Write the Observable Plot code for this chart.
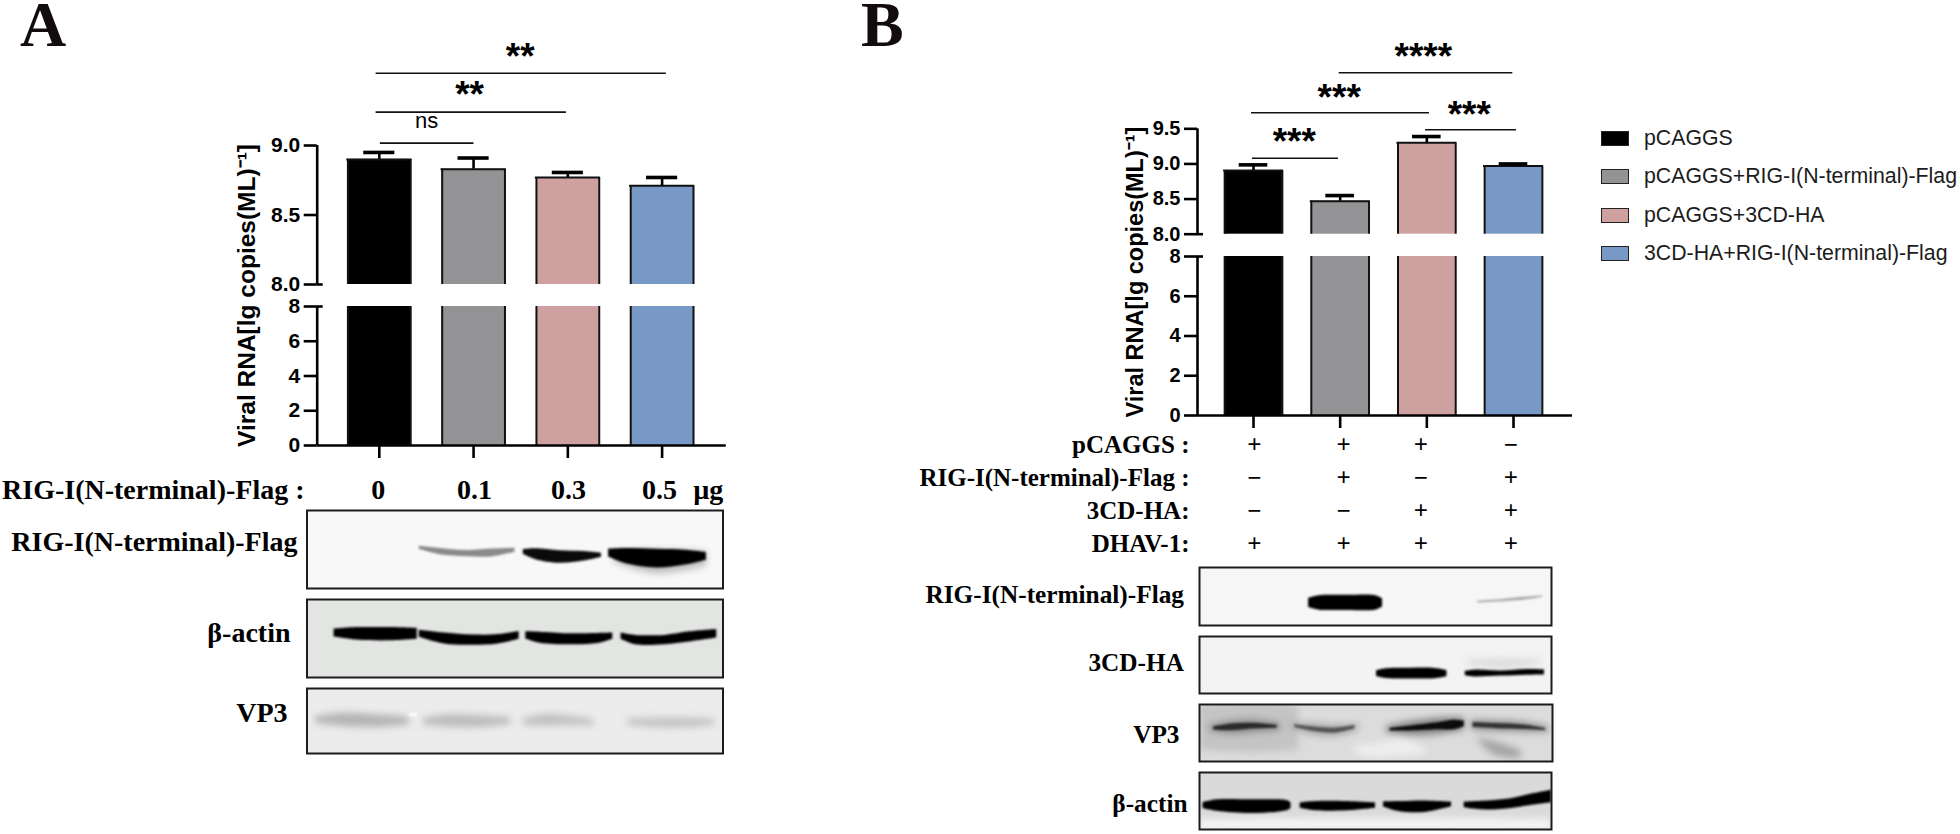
<!DOCTYPE html>
<html><head><meta charset="utf-8">
<script src="https://cdn.jsdelivr.net/npm/d3@7"></script>
<script src="https://cdn.jsdelivr.net/npm/@observablehq/plot@0.6"></script>
<style>
html,body{margin:0;padding:0;background:#fff;}
#page{position:relative;width:1960px;height:834px;overflow:hidden;background:#fff;}
#page svg{position:absolute;background:transparent;overflow:visible;max-width:none;}
g[aria-label="area"]{filter:blur(1.3px);}
.letter{position:absolute;font:bold 64px/50px "Liberation Serif",serif;color:#120c0c;}
.lg{position:absolute;left:1601px;width:28px;height:15px;box-sizing:border-box;border:1.5px solid #222;}
.lt{position:absolute;left:1644px;font:21.3px/24px "Liberation Sans",Arial,sans-serif;color:#1c1c1c;white-space:nowrap;}
</style></head><body><div id="page"></div>
<script>
// ---------- data ----------
const groupColors = ["#000000", "#939395", "#cea0a0", "#7899c6"];
const groupNames = ["pCAGGS", "pCAGGS+RIG-I(N-terminal)-Flag", "pCAGGS+3CD-HA", "3CD-HA+RIG-I(N-terminal)-Flag"];
const lanes = [0, 1, 2, 3];
const valuesA = [8.9, 8.83, 8.77, 8.71];
const errTopA = [8.95, 8.91, 8.806, 8.77];
const valuesB = [8.906, 8.47, 9.3, 8.97];
const errTopB = [8.987, 8.55, 9.39, 9.0];
const axisLabel = "Viral RNA[lg copies(ML)\u207B\u00B9]";
const BREAK = 8.0001;
const ticksA = [0, 2, 4, 6, 8, BREAK, 8.5, 9];
const ticksB = [0, 2, 4, 6, 8, BREAK, 8.5, 9, 9.5];
// significance brackets: from lane, to lane, height, label lane, label height, text
const bracketsA = [
  [-0.034, 3.045, 9.52, 1.494, 9.67, "**"],
  [-0.034, 1.985, 9.24, 0.958, 9.396, "**"],
  [0.011, 1.004, 9.017, 0.502, 9.18, "ns"]
];
const bracketsB = [
  [0.989, 2.992, 10.297, 1.96, 10.59, "****"],
  [-0.023, 2.03, 9.728, 0.989, 10.007, "***"],
  [1.985, 3.034, 9.486, 2.49, 9.76, "***"],
  [-0.012, 0.98, 9.082, 0.47, 9.376, "***"]
];
const doseLabels = ["0", "0.1", "0.3", "0.5", "\u00B5g"];
const doseLanes = [-0.01, 1.01, 2.007, 2.972, 3.49];
const tableRows = ["pCAGGS :", "RIG-I(N-terminal)-Flag :", "3CD-HA:", "DHAV-1:"];
const tableSigns = [
  ["+", "+", "+", "\u2212"],
  ["\u2212", "+", "\u2212", "+"],
  ["\u2212", "\u2212", "+", "+"],
  ["+", "+", "+", "+"]
];
const tableLanes = [0.01, 1.04, 1.93, 2.97];
// western blots: bands as [x %, y %, thickness %] of each frame; soft = diffuse smear
const blotA1 = [
  {ink:"#8a8a8a", pts:[[27,47.7,4],[31.6,52.3,8],[38.6,55.3,8],[44.4,54.5,10],[50,51,5]]},
  {ink:"#0a0a0a", pts:[[52,53,6],[55,56,14],[60.8,59.6,16],[66.7,58.7,12],[70.8,57.4,5]]},
  {ink:"#000000", pts:[[72.5,54.5,10],[77,58.7,20],[84,61.7,24],[91,60.4,19],[96,58.7,10]]},
  {ink:"#bbbbbb", soft:true, pts:[[74,60,14],[84,66,30],[96,62,18]]}
];
const blotA2 = [
  {ink:"#000000", pts:[[6.5,43,10],[12,44,16],[20,44.5,17],[26.5,44,14]]},
  {ink:"#000000", pts:[[27,44,9],[33,50,14],[40,52,13],[46,51,12],[51,46,10]]},
  {ink:"#000000", pts:[[52.6,46,9],[56,49,14],[63,51,14],[70,50,13],[73.5,47,8]]},
  {ink:"#000000", pts:[[75.5,47,8],[79,52,12],[86,52,12],[92,48,13],[98.5,44,11]]}
];
const blotA3 = [
  {ink:"#b4b4b4", soft:true, pts:[[2,49,10],[8,48,20],[16,50,20],[24.5,50,12]]},
  {ink:"#bcbcbc", soft:true, pts:[[28,51,10],[35,50,20],[42,51,18],[49,50,10]]},
  {ink:"#c0c0c0", soft:true, pts:[[52,52,10],[57,49,18],[64,50,14],[69,53,9]]},
  {ink:"#c4c4c4", soft:true, pts:[[77,52,10],[84,53,15],[92,53,15],[98,52,9]]},
  {ink:"#ffffff", pts:[[24.6,41,4],[26.6,41,5]]}
];
const blotB1 = [
  {ink:"#000000", pts:[[31,61,16],[34,61,25],[42,61,26],[50,61,25],[52,61,14]]},
  {ink:"#a8a8a8", pts:[[79,59.5,3],[86,57,4],[92,54,5],[97.5,50,3]]}
];
const blotB2 = [
  {ink:"#dcdcdc", soft:true, pts:[[76,46,8],[86,48,18],[97,46,8]]},
  {ink:"#000000", pts:[[50.3,65,10],[53,65,17],[60,65,19],[67,65,18],[70.3,65,11]]},
  {ink:"#000000", pts:[[75.5,65,8],[78,65,12],[86,65,9],[93,63,10],[98,63,9]]}
];
const blotB3 = [
  {ink:"#c4c4c4", soft:true, pts:[[0,40,80],[15,40,90],[28,40,80]]},
  {ink:"#ededed", soft:true, pts:[[44,80,14],[50,82,26],[58,76,30],[64,84,12]]},
  {ink:"#a4a4a4", soft:true, pts:[[79,62,5],[84,78,24],[91,88,14]]},
  {ink:"#8c8c8c", soft:true, pts:[[3,42,12],[10,40,24],[16,38,22],[23,39,12]]},
  {ink:"#a6a6a6", soft:true, pts:[[26,38,10],[32,43,20],[38,46,20],[45,40,12]]},
  {ink:"#808080", soft:true, pts:[[53,44,10],[60,42,24],[68,38,28],[75,34,22]]},
  {ink:"#909090", soft:true, pts:[[77,36,18],[84,38,20],[92,40,18],[99,44,10]]},
  {ink:"#2a2a2a", pts:[[4,42,6],[9,40,12],[15,38,10],[22,39,5]]},
  {ink:"#555555", pts:[[27,38,5],[32,43,8],[38,46,9],[44,40,6]]},
  {ink:"#0c0c0c", pts:[[54,44,5],[60,42,9],[68,38,13],[72,36,17],[75,34,10]]},
  {ink:"#333333", pts:[[77.5,36,9],[84,38,9],[92,40,8],[98,44,4]]}
];
const blotB4 = [
  {ink:"#f4f4f4", soft:true, pts:[[0,92,20],[50,92,22],[100,92,20]]},
  {ink:"#000000", pts:[[1,58,10],[5,58,20],[15,60,24],[25,58,17],[26,58,9]]},
  {ink:"#000000", pts:[[28.6,58,9],[33,59,16],[42,59,16],[50,58,9]]},
  {ink:"#000000", pts:[[52.3,56,9],[57,60,18],[64,60,20],[71.6,56,8]]},
  {ink:"#000000", pts:[[75.2,57,10],[80,58,15],[88,55,17],[95,47,20],[100,42,22]]}
];

// ---------- helpers ----------
const page = document.getElementById("page");
function put(svg, left, top) { svg.style.left = left + "px"; svg.style.top = top + "px"; page.appendChild(svg); }
const sans = '"Liberation Sans",Arial,sans-serif';
const serif = '"Liberation Serif",serif';
const outer = 2.6, halfBar = 0.333, halfCap = 0.165;

function chart({width, height, marginLeft, marginRight, marginBottom, xDomain, yDomain, yRange, values, errTop, ticks, tickFont, brackets, label, labelX, labelY, labelSize, extra = []}) {
  const rows = lanes.map(i => ({i, v: values[i], e: errTop[i], c: groupColors[i]}));
  const xLo = xDomain[0];
  const nub = 6 / ((width - marginLeft - marginRight) / (xDomain[1] - xDomain[0]));
  const br = brackets.map(([a, b, h, lx, ly, t]) => ({a, b, h, lx, ly, t}));
  const stars = br.filter(d => d.t !== "ns"), ns = br.filter(d => d.t === "ns");
  const fmt = v => v === BREAK ? "8.0" : v > 8 ? v.toFixed(1) : String(v);
  const sides = rows.flatMap(d => [{...d, s: d.i - halfBar}, {...d, s: d.i + halfBar}]);
  return Plot.plot({
    width, height, marginLeft, marginRight, marginTop: 0, marginBottom,
    x: {type: "linear", domain: xDomain},
    y: {type: "linear", domain: yDomain, range: yRange},
    style: {background: "transparent"},
    marks: [
      // bars, broken at the axis gap
      Plot.rectY(rows, {x1: d => d.i - halfBar, x2: d => d.i + halfBar, y1: 0, y2: 8, fill: "c"}),
      Plot.rectY(rows, {x1: d => d.i - halfBar, x2: d => d.i + halfBar, y1: BREAK, y2: "v", fill: "c"}),
      Plot.ruleX(sides, {x: "s", y1: 0, y2: 8, stroke: "#111", strokeWidth: 2}),
      Plot.ruleX(sides, {x: "s", y1: BREAK, y2: "v", stroke: "#111", strokeWidth: 2}),
      Plot.ruleY(rows, {y: "v", x1: d => d.i - halfBar - 0.012, x2: d => d.i + halfBar + 0.012, stroke: "#111", strokeWidth: 2}),
      // error bars
      Plot.ruleX(rows, {x: "i", y1: "v", y2: "e", stroke: "#000", strokeWidth: 2.6}),
      Plot.ruleY(rows, {y: "e", x1: d => d.i - halfCap, x2: d => d.i + halfCap, stroke: "#000", strokeWidth: 3.6}),
      // axes
      Plot.ruleX([xLo], {y1: 0, y2: 8, stroke: "#000", strokeWidth: outer}),
      Plot.ruleX([xLo], {y1: BREAK, y2: ticks[ticks.length - 1], stroke: "#000", strokeWidth: outer}),
      Plot.ruleY([8, BREAK], {x1: xLo, x2: xLo + nub, stroke: "#000", strokeWidth: outer}),
      Plot.ruleY([0], {stroke: "#000", strokeWidth: outer}),
      Plot.axisY({ticks, tickFormat: fmt, tickSize: 13, tickPadding: 4, strokeWidth: outer, label: null,
        fontSize: tickFont, fontWeight: "bold", fontFamily: sans, fill: "#000"}),
      Plot.axisX({ticks: lanes, tickFormat: () => "", tickSize: 13, strokeWidth: outer, label: null}),
      // axis title
      Plot.text([label], {x: () => labelX, y: () => labelY, rotate: -90, text: d => d,
        fontSize: labelSize, fontWeight: "bold", fontFamily: sans, fill: "#000", textAnchor: "middle", lineAnchor: "middle"}),
      // significance
      Plot.ruleY(br, {y: "h", x1: "a", x2: "b", stroke: "#111", strokeWidth: 1.6}),
      Plot.text(stars, {x: "lx", y: "ly", dy: 5, text: "t", fontSize: 37, fontWeight: "bold", fontFamily: sans, fill: "#000", lineAnchor: "middle"}),
      Plot.text(ns, {x: "lx", y: "ly", text: "t", fontSize: 22, fontFamily: sans, fill: "#000", lineAnchor: "middle"}),
      ...extra
    ]
  });
}

function blot({frameLeft, frameTop, frameW, frameH, paper, bands, label, labelEnd, labelY, labelSize}) {
  const pad = frameLeft - 4;
  const rowsOf = list => list.flatMap((b, id) => b.pts.map(([x, y, h]) => ({id, ink: b.ink, x, y1: y - h / 2, y2: y + h / 2})));
  const soft = rowsOf(bands.filter(b => b.soft)), sharp = rowsOf(bands.filter(b => !b.soft));
  const svg = Plot.plot({
    width: frameW + pad + 2, height: frameH + 2, marginLeft: pad, marginRight: 2, marginTop: 1, marginBottom: 1,
    x: {domain: [0, 100], axis: null}, y: {domain: [100, 0], axis: null},
    style: {background: "transparent"},
    marks: [
      Plot.frame({fill: paper, stroke: "none"}),
      Plot.area(soft, {x1: "x", y1: "y1", y2: "y2", z: "id", fill: "ink", curve: "catmull-rom", clip: "frame"}),
      Plot.area(sharp, {x1: "x", y1: "y1", y2: "y2", z: "id", fill: "ink", curve: "catmull-rom", clip: "frame"}),
      Plot.frame({stroke: "#1c1c1c", strokeWidth: 2}),
      Plot.text([label], {x: () => 0, y: () => labelY, dx: -(frameLeft - labelEnd), text: d => d, textAnchor: "end", lineAnchor: "middle",
        fontSize: labelSize, fontWeight: "bold", fontFamily: serif, fill: "#000"})
    ]
  });
  const softGroup = svg.querySelectorAll('g[aria-label="area"]')[0];
  if (soft.length && softGroup) softGroup.style.filter = "blur(3.5px)";
  put(svg, 4, frameTop - 1);
}

// ---------- panel A ----------
const kA = 94.27, x0A = 378.8;
const xDomA = [(316.7 - x0A) / kA, (725.8 - x0A) / kA];
put(chart({
  width: 740, height: 500, marginLeft: 316.7, marginRight: 14.2, marginBottom: 55,
  xDomain: xDomA, yDomain: [0, 8, BREAK, 8 + 284 / 139], yRange: [445, 306, 284, 0],
  values: valuesA, errTop: errTopA, ticks: ticksA, tickFont: 21, brackets: bracketsA,
  label: axisLabel, labelX: (246.7 - x0A) / kA, labelY: 8.00005, labelSize: 24.5,
  extra: [
    Plot.text(doseLabels, {x: (d, i) => doseLanes[i], y: () => 0, dy: 45, text: d => d, fontSize: 28, fontWeight: "bold", fontFamily: serif, fill: "#000", lineAnchor: "middle"}),
    Plot.text(["RIG-I(N-terminal)-Flag :"], {x: () => (304 - x0A) / kA, y: () => 0, dy: 45, text: d => d, textAnchor: "end", fontSize: 28, fontWeight: "bold", fontFamily: serif, fill: "#000", lineAnchor: "middle"})
  ]
}), 0, 0);
blot({frameLeft: 306.5, frameTop: 510, frameW: 416, frameH: 78, paper: "#f8f8f8", bands: blotA1, label: "RIG-I(N-terminal)-Flag", labelEnd: 297, labelY: 41, labelSize: 28});
blot({frameLeft: 306.5, frameTop: 599, frameW: 416, frameH: 78, paper: "#e3e5e3", bands: blotA2, label: "\u03B2-actin", labelEnd: 290, labelY: 43, labelSize: 28});
blot({frameLeft: 306.5, frameTop: 688, frameW: 416, frameH: 65, paper: "#ececec", bands: blotA3, label: "VP3", labelEnd: 287, labelY: 37, labelSize: 28});

// ---------- panel B ----------
const kB = 86.67, x0B = 1253;
const xDomB = [(1197 - x0B) / kB, (1572 - x0B) / kB];
const leftB = 820;
put(chart({
  width: 1584 - leftB, height: 430, marginLeft: 1197 - leftB, marginRight: 12, marginBottom: 15,
  xDomain: xDomB, yDomain: [0, 8, BREAK, 8 + 233.7 / 70.26], yRange: [415, 256, 233.7, 0],
  values: valuesB, errTop: errTopB, ticks: ticksB, tickFont: 20, brackets: bracketsB,
  label: axisLabel, labelX: (1135 - x0B) / kB, labelY: 7.22, labelSize: 23.5
}), leftB, 0);

// condition table under panel B
const tableData = tableRows.flatMap((r, ri) => lanes.map(i => ({r, i, s: tableSigns[ri][i]})));
put(Plot.plot({
  width: 1584 - leftB, height: 130, marginLeft: 1197 - leftB, marginRight: 12, marginTop: 0, marginBottom: 0,
  x: {type: "linear", domain: xDomB, axis: null},
  y: {type: "point", domain: tableRows, range: [13, 114], padding: 0, axis: null},
  style: {background: "transparent"},
  marks: [
    Plot.text(tableData, {x: d => tableLanes[d.i], y: "r", text: "s", fontSize: 25, fontWeight: "bold", fontFamily: serif, fill: "#000", lineAnchor: "middle"}),
    Plot.text(tableRows, {x: () => (1189 - x0B) / kB, y: d => d, text: d => d, textAnchor: "end", fontSize: 25, fontWeight: "bold", fontFamily: serif, fill: "#000", lineAnchor: "middle"})
  ]
}), leftB, 430);

blot({frameLeft: 1199, frameTop: 567, frameW: 352, frameH: 58, paper: "#f6f6f6", bands: blotB1, label: "RIG-I(N-terminal)-Flag", labelEnd: 1183.5, labelY: 47, labelSize: 25.3});
blot({frameLeft: 1199, frameTop: 636, frameW: 352, frameH: 57, paper: "#f3f3f3", bands: blotB2, label: "3CD-HA", labelEnd: 1183.5, labelY: 47, labelSize: 25.3});
blot({frameLeft: 1199, frameTop: 704, frameW: 353, frameH: 57, paper: "#dcdcdc", bands: blotB3, label: "VP3", labelEnd: 1179, labelY: 54, labelSize: 25.3});
blot({frameLeft: 1199, frameTop: 772, frameW: 352, frameH: 57, paper: "#dadada", bands: blotB4, label: "\u03B2-actin", labelEnd: 1187, labelY: 55, labelSize: 25.3});

// ---------- panel letters and legend ----------
[["A", 20, 0], ["B", 861, 0]].forEach(([t, l, tp]) => {
  const d = document.createElement("div"); d.className = "letter"; d.textContent = t;
  d.style.left = l + "px"; d.style.top = tp + "px"; page.appendChild(d);
});
const legendTops = [131, 169, 208, 246];
groupNames.forEach((name, i) => {
  const s = document.createElement("div"); s.className = "lg"; s.style.background = groupColors[i]; s.style.top = legendTops[i] + "px"; page.appendChild(s);
  const t = document.createElement("div"); t.className = "lt"; t.textContent = name; t.style.top = (legendTops[i] - 5) + "px"; page.appendChild(t);
});
</script></body></html>
